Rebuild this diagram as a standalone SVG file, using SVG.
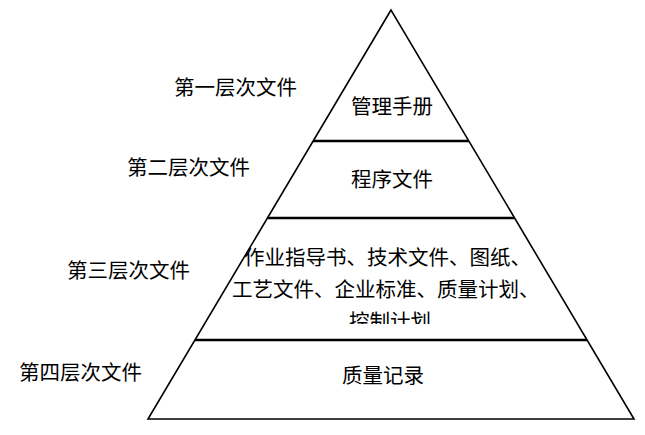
<svg xmlns="http://www.w3.org/2000/svg" width="645" height="435" viewBox="0 0 645 435">
<style>
text{font-family:"Noto Sans CJK SC","Liberation Sans",sans-serif;font-size:20.5px;fill:#000}
.side{stroke:#000;stroke-width:1.6;fill:none}
.div{stroke:#000;stroke-width:2.4}
</style>
<defs>
<clipPath id="c3"><rect x="190" y="219" width="400" height="105"/></clipPath>
</defs>
<rect width="645" height="435" fill="#fff"/>
<g id="connectors">
<path class="side" d="M391,10 L148,419 L634,419 Z"/>
<line class="div" x1="313" y1="141" x2="469" y2="141"/>
<line class="div" x1="268" y1="218" x2="514" y2="218"/>
<line class="div" x1="195" y1="340" x2="587" y2="340"/>
</g>
<g id="tier1"><text x="351" y="114">管理手册</text></g>
<g id="tier2"><text x="351" y="187">程序文件</text></g>
<g id="tier3" clip-path="url(#c3)">
<text x="244" y="265">作业指导书、技术文件、图纸、</text>
<text x="232" y="297">工艺文件、企业标准、质量计划、</text>
<text x="349" y="329">控制计划</text>
</g>
<g id="tier4"><text x="342" y="383">质量记录</text></g>
<g id="label1"><text x="174" y="95">第一层次文件</text></g>
<g id="label2"><text x="127" y="175">第二层次文件</text></g>
<g id="label3"><text x="67" y="278">第三层次文件</text></g>
<g id="label4"><text x="19" y="380">第四层次文件</text></g>
</svg>
